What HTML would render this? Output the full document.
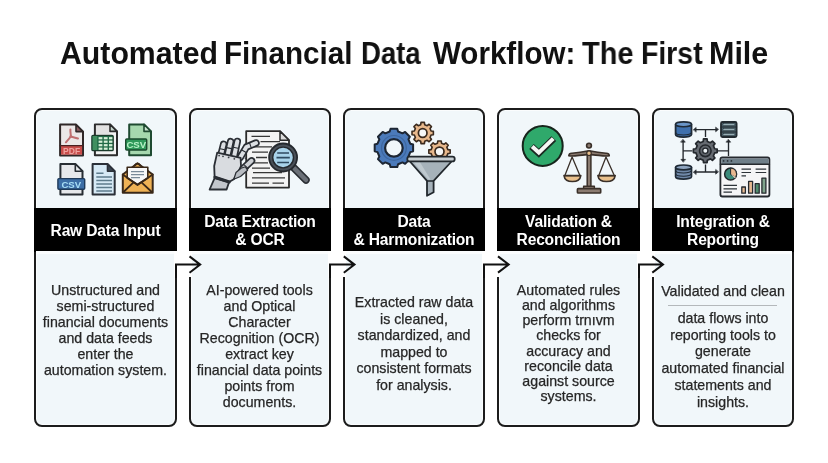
<!DOCTYPE html>
<html><head><meta charset="utf-8">
<style>
html,body{margin:0;padding:0;background:#fff;}
body{width:828px;height:463px;position:relative;overflow:hidden;font-family:"Liberation Sans",sans-serif;}
.title{position:absolute;left:0;width:828px;top:35px;height:34px;font-weight:bold;font-size:29.4px;color:#111;line-height:34px;white-space:nowrap;}
.title span{position:absolute;top:0;transform-origin:0 0;will-change:transform;}
.card{position:absolute;top:107.5px;height:319.5px;box-sizing:border-box;border:2px solid #1c1c1c;border-radius:8px;background:#f1f7fa;box-shadow:inset 0 0 0 1px #fafcfd;}
.hdr{position:absolute;will-change:transform;top:207.5px;height:43.5px;background:#000;color:#fff;font-weight:bold;font-size:15.6px;letter-spacing:-0.2px;line-height:18px;padding-top:2.2px;box-sizing:border-box;text-align:center;display:flex;align-items:center;justify-content:center;}
.strip{position:absolute;top:251px;height:2.5px;background:#fbfdfe;}
.body{position:absolute;will-change:transform;text-align:center;font-size:14.2px;line-height:15.7px;color:#262626;-webkit-text-stroke:0.25px #262626;white-space:nowrap;}
.gapw{position:absolute;background:#fff;}
svg{position:absolute;left:0;top:0;}
</style></head><body>
<div class="title"><span style="left:60.27px;transform:scale(1.0291,1.075)">Automated</span><span style="left:224.28px;transform:scale(1.0081,1.075)">Financial</span><span style="left:361.03px;transform:scale(0.9371,1.075)">Data</span><span style="left:432.8px;transform:scale(1.0058,1.075)">Workflow:</span><span style="left:582.0px;transform:scale(0.9843,1.075)">The</span><span style="left:640.67px;transform:scale(0.9661,1.075)">First</span><span style="left:709.13px;transform:scale(1.037,1.075)">Mile</span></div>

<div class="card" style="left:34px;width:143px"></div>
<div class="card" style="left:189px;width:142px"></div>
<div class="card" style="left:343px;width:142px"></div>
<div class="card" style="left:497px;width:143px"></div>
<div class="card" style="left:652px;width:142px"></div>

<div class="hdr" style="left:34px;width:143px">Raw Data Input</div>
<div class="hdr" style="left:189px;width:142px">Data Extraction<br>&amp; OCR</div>
<div class="hdr" style="left:343px;width:142px">Data<br>&amp; Harmonization</div>
<div class="hdr" style="left:497px;width:143px">Validation &amp;<br>Reconciliation</div>
<div class="hdr" style="left:652px;width:142px">Integration &amp;<br>Reporting</div>

<div class="strip" style="left:36px;width:139px"></div>
<div class="strip" style="left:191px;width:138px"></div>
<div class="strip" style="left:345px;width:138px"></div>
<div class="strip" style="left:499px;width:139px"></div>
<div class="strip" style="left:654px;width:138px"></div>
<!--ICONS1-->
<svg width="828" height="463" viewBox="0 0 828 463" style="position:absolute;left:0;top:0">
 <g stroke-linejoin="round" stroke-linecap="round">
  <!-- PDF -->
  <path d="M60.1 124.6H76L83 131.6V155.5H60.1Z" fill="#ebe7e7" stroke="#2f2727" stroke-width="2"/>
  <path d="M61 146H82.1V154.6H61Z" fill="#c84c4a"/>
  <path d="M60.1 145.7H83" stroke="#4a2020" stroke-width="1.3" fill="none"/>
  <path d="M76 124.6V131.6H83Z" fill="#8d5f63" stroke="#2f2727" stroke-width="1.6"/>
  <path d="M70.4 129.5C70.2 132.5 71 134.5 70.8 136.5M70.8 136.5C69 139 67.5 140.5 65.9 142.3M70.8 136.5C73.5 137.2 75.8 137.8 78 138.5" stroke="#bf6f70" stroke-width="2" fill="none"/><circle cx="70.8" cy="136.6" r="1.3" fill="#bf6f70"/>
  <text x="71.6" y="153.6" font-family="Liberation Sans" font-weight="bold" font-size="8.5" fill="#eea3a0" text-anchor="middle">PDF</text>
  <!-- XLS -->
  <path d="M94.9 124.4H110L117 131.4V155.2H94.9Z" fill="#f3f3f3" stroke="#2c2c2c" stroke-width="2"/>
  <path d="M96 125.5H109.5V134H96Z" fill="#e2e2e2"/>
  <path d="M110 124.4V131.4H117Z" fill="#c6d6ce" stroke="#2c2c2c" stroke-width="1.6"/>
  <rect x="91.9" y="135.4" width="21.3" height="15.2" rx="1.2" fill="#216b47" stroke="#1a3a2a" stroke-width="1.3"/>
  <rect x="92.6" y="136" width="4.6" height="14" fill="#3f8f5f"/>
  <g fill="#d6f0d8">
   <rect x="98.6" y="137.1" width="3.8" height="2.2"/><rect x="103.8" y="137.1" width="3.8" height="2.2"/><rect x="109" y="137.1" width="3.4" height="2.2"/>
   <rect x="98.6" y="140.6" width="3.8" height="2.2"/><rect x="103.8" y="140.6" width="3.8" height="2.2"/><rect x="109" y="140.6" width="3.4" height="2.2"/>
   <rect x="98.6" y="144.1" width="3.8" height="2.2"/><rect x="103.8" y="144.1" width="3.8" height="2.2"/><rect x="109" y="144.1" width="3.4" height="2.2"/>
   <rect x="98.6" y="147.6" width="3.8" height="2.2"/><rect x="103.8" y="147.6" width="3.8" height="2.2"/><rect x="109" y="147.6" width="3.4" height="2.2"/>
  </g>
  <!-- CSV green -->
  <path d="M129.2 124.4H144L151 131.4V155.2H129.2Z" fill="#a6d8ae" stroke="#1f4a31" stroke-width="2"/>
  <path d="M144 124.4V131.4H151Z" fill="#cde6d2" stroke="#1f4a31" stroke-width="1.6"/>
  <rect x="125.7" y="139" width="21" height="11" rx="1" fill="#2e995a" stroke="#1b4a2e" stroke-width="1.4"/>
  <text x="136.3" y="148.3" font-family="Liberation Sans" font-weight="bold" font-size="9.6" fill="#b6f2c6" text-anchor="middle">CSV</text>
  <!-- CSV blue -->
  <path d="M60.4 164H75.3L82.5 171.2V194.6H60.4Z" fill="#e6e8eb" stroke="#272d33" stroke-width="2"/>
  <path d="M75.3 164V171.2H82.5Z" fill="#e9ecef" stroke="#272d33" stroke-width="1.6"/>
  <rect x="57.9" y="178.6" width="26.8" height="10.6" rx="1" fill="#3c6ea6" stroke="#1e3a5a" stroke-width="1.4"/>
  <text x="71.3" y="187.6" font-family="Liberation Sans" font-weight="bold" font-size="9.6" fill="#a8def6" text-anchor="middle">CSV</text>
  <!-- Text doc -->
  <path d="M92.6 164H107.5L114.7 171.2V194.6H92.6Z" fill="#d6e9f5" stroke="#2b3038" stroke-width="2"/>
  <path d="M107.5 164V171.2H114.7Z" fill="#3c4752" stroke="#2b3038" stroke-width="1.6"/>
  <g stroke="#5d7b8c" stroke-width="1.4" fill="none" stroke-linecap="butt">
   <path d="M96.3 173.3H103.5M96.3 177H112M96.3 180.5H112M96.3 184H112M96.3 187.5H112M96.3 191H112"/>
  </g>
  <!-- Envelope -->
  <path d="M122.8 174.5L137.5 163.3L152.7 174.5V192.7H122.8Z" fill="#efb255" stroke="#3a2818" stroke-width="2"/>
  <path d="M134.5 165.5Q137.5 161.8 140.5 165.5" fill="none" stroke="#3a2818" stroke-width="1.6"/>
  <path d="M127.2 167.2H147.8V178L137.5 184.5L127.2 178Z" fill="#f7f7f7" stroke="#3a2818" stroke-width="1.6"/>
  <g stroke="#7a8a98" stroke-width="1.3" fill="none" stroke-linecap="butt"><path d="M131 171.6H144M131 174.6H144M131 177.6H140"/></g>
  <path d="M122.8 174.5L137.5 185L152.7 174.5" fill="none" stroke="#3a2818" stroke-width="1.8"/>
  <path d="M123.5 192L133.5 182.3M151.8 192L141.5 182.3" fill="none" stroke="#3a2818" stroke-width="1.8"/>
 </g>
</svg>

<!--ICONS2-->
<svg width="828" height="463" viewBox="0 0 828 463" style="position:absolute;left:0;top:0">
 <g stroke-linejoin="round" stroke-linecap="round">
  <!-- document -->
  <path d="M246.2 131.2H280L289 140.2V187.6H246.2Z" fill="#f3f3f3" stroke="#2b2b2b" stroke-width="1.8"/>
  <path d="M280 131.2V140.2H289Z" fill="#dcdcdc" stroke="#2b2b2b" stroke-width="1.5"/>
  <g stroke="#363636" stroke-width="1.3" fill="none" stroke-linecap="butt">
   <path d="M251.5 136.3H270M260.5 141.6H280M251.5 146.9H272M252 152.2H268M256 157.5H267M252 162.8H268M252 168.1H270M253 172.6H282M252 177.9H285M252 183.2H269M272.5 183.2H284"/>
  </g>
  <!-- magnifier handle -->
  <path d="M293.5 167.5L306 180" stroke="#2a2e33" stroke-width="7.5"/>
  <path d="M294.5 168.5L306 180" stroke="#6b7077" stroke-width="4.5"/>
  <!-- magnifier ring -->
  <circle cx="283.1" cy="157.5" r="14" fill="#4a5058" stroke="#25292e" stroke-width="1.8"/>
  <circle cx="283.1" cy="157.5" r="10.4" fill="#a9d3ea" stroke="#25292e" stroke-width="1.4"/>
  <g stroke="#2f4a60" stroke-width="1.6" fill="none" stroke-linecap="butt"><path d="M277.2 153H289M276.5 157.6H289.8M277.2 162.5H289"/></g>
  <!-- robot hand -->
  <path d="M209.6 189.5L214.6 178.2L229 182.2L226.6 189.5Z" fill="#c2c6cc" stroke="#2a2e34" stroke-width="1.8"/>
  <g fill="none">
   <path d="M221.3 153.6L223.6 144.3M227.7 154.6L230.6 141.6M234.2 156L237.3 141.4M240.3 157.4L246.4 147L256 143" stroke="#2a2e34" stroke-width="7.4"/>
   <path d="M221.3 153.6L223.6 144.3M227.7 154.6L230.6 141.6M234.2 156L237.3 141.4M240.3 157.4L246.4 147L256 143" stroke="#dcdfe3" stroke-width="4"/>
   <path d="M220.2 148.8L224.6 149.8M226.6 147.6L231.4 148.6M233.2 147.2L238 148.2M241.8 150L245.8 152.3M249.6 143L251 147.2" stroke="#2a2e34" stroke-width="1.1"/>
   <path d="M238.5 173L251.6 160.8" stroke="#2a2e34" stroke-width="7.4"/>
   <path d="M238.5 173L251.6 160.8" stroke="#cdd0d5" stroke-width="4"/>
   <path d="M244.5 165.2L248.2 168.6" stroke="#2a2e34" stroke-width="1.1"/>
  </g>
  <path d="M214.6 176.8L214.2 166L217.2 152.6L240.6 157.9L241 166L238.2 172.2L233.8 179.2L229.5 181.8Z" fill="#d9dce0" stroke="#2a2e34" stroke-width="1.8"/>
  <path d="M233.8 179.2L236 172.5L241 168.2L245.4 166.8L247.6 170.2L240.5 176.5Z" fill="#b8bcc2" stroke="#2a2e34" stroke-width="1.2"/>
  <path d="M214.8 177.3L229.3 182" stroke="#2a2e34" stroke-width="3" fill="none"/>
  <g fill="#3a3e44"><circle cx="219.1" cy="155.6" r="0.9"/><circle cx="223" cy="156.3" r="0.9"/><circle cx="228.6" cy="157.4" r="0.9"/><circle cx="234.3" cy="158.8" r="0.9"/><circle cx="245.4" cy="158.4" r="0.8"/></g>
 </g>
</svg>

<!--ICONS3-->
<svg width="828" height="463" viewBox="0 0 828 463" style="position:absolute;left:0;top:0">
 <g stroke-linejoin="round" stroke-linecap="round">
  <path d="M389.70 131.53L390.55 128.69L397.25 128.69L398.10 131.53L402.50 133.35L405.11 131.95L409.85 136.69L408.45 139.30L410.27 143.70L413.11 144.55L413.11 151.25L410.27 152.10L408.45 156.50L409.85 159.11L405.11 163.85L402.50 162.45L398.10 164.27L397.25 167.11L390.55 167.11L389.70 164.27L385.30 162.45L382.69 163.85L377.95 159.11L379.35 156.50L377.53 152.10L374.69 151.25L374.69 144.55L377.53 143.70L379.35 139.30L377.95 136.69L382.69 131.95L385.30 133.35Z" fill="#4b7aba" stroke="#1d2633" stroke-width="2"/>
  <circle cx="393.9" cy="147.9" r="12.4" fill="none" stroke="#3e679f" stroke-width="1.2"/>
  <circle cx="393.9" cy="147.9" r="8.8" fill="#f1f7fa" stroke="#1d2633" stroke-width="2.2"/>
  <path d="M420.69 124.64L421.01 122.33L424.39 122.33L424.71 124.64L427.19 125.67L429.05 124.26L431.44 126.65L430.03 128.51L431.06 130.99L433.37 131.31L433.37 134.69L431.06 135.01L430.03 137.49L431.44 139.35L429.05 141.74L427.19 140.33L424.71 141.36L424.39 143.67L421.01 143.67L420.69 141.36L418.21 140.33L416.35 141.74L413.96 139.35L415.37 137.49L414.34 135.01L412.03 134.69L412.03 131.31L414.34 130.99L415.37 128.51L413.96 126.65L416.35 124.26L418.21 125.67Z" fill="#e8b88c" stroke="#3a2a1e" stroke-width="1.6"/>
  <circle cx="422.7" cy="133" r="4.3" fill="#f6f7f7" stroke="#3a2a1e" stroke-width="1.7"/>
  <path d="M437.49 143.24L437.81 140.93L441.19 140.93L441.51 143.24L443.99 144.27L445.85 142.86L448.24 145.25L446.83 147.11L447.86 149.59L450.17 149.91L450.17 153.29L447.86 153.61L446.83 156.09L448.24 157.95L445.85 160.34L443.99 158.93L441.51 159.96L441.19 162.27L437.81 162.27L437.49 159.96L435.01 158.93L433.15 160.34L430.76 157.95L432.17 156.09L431.14 153.61L428.83 153.29L428.83 149.91L431.14 149.59L432.17 147.11L430.76 145.25L433.15 142.86L435.01 144.27Z" fill="#e8b88c" stroke="#3a2a1e" stroke-width="1.6"/>
  <circle cx="439.5" cy="151.6" r="4.5" fill="#f6f7f7" stroke="#3a2a1e" stroke-width="1.7"/>
  <!-- funnel -->
  <path d="M409.5 161L427 180.8V195.8L433.6 192.2V180.8L452 161Z" fill="#a6b2ba" stroke="#22282d" stroke-width="1.8"/>
  <path d="M413.5 162.2L428.3 179.5H430.5L420 162.2Z" fill="#bfc9cf"/>
  <path d="M427.5 181H433.3" stroke="#22282d" stroke-width="1.3"/>
  <rect x="407.3" y="156.6" width="47.4" height="4.8" rx="2.2" fill="#c6cdd1" stroke="#22282d" stroke-width="1.8"/>
 </g>
</svg>
<!--ICONS4-->
<svg width="828" height="463" viewBox="0 0 828 463" style="position:absolute;left:0;top:0">
 <g stroke-linejoin="round" stroke-linecap="round">
  <circle cx="542.7" cy="145.9" r="20" fill="#2fa96b" stroke="#17251c" stroke-width="2"/>
  <path d="M531.5 146.6L538.8 153.2L553.8 138.6" fill="none" stroke="#1b2a22" stroke-width="6.8" stroke-linecap="butt" stroke-linejoin="miter"/>
  <path d="M532.2 146.6L538.8 152.6L553.2 138.6" fill="none" stroke="#f7f7f5" stroke-width="4" stroke-linecap="butt" stroke-linejoin="miter"/>
  <!-- scales -->
  <g fill="none" stroke="#3a3029" stroke-width="1.3">
   <path d="M572.1 157L564.8 175.7M572.1 157L580 175.7M606 157L598.7 175.7M606 157L614.4 175.7"/>
  </g>
  <path d="M564 175.6H580.8Q580 181.5 572.4 181.5Q564.8 181.5 564 175.6Z" fill="#e9c08c" stroke="#3a3029" stroke-width="1.6"/>
  <path d="M597.9 175.6H615.2Q614.4 181.5 606.5 181.5Q598.7 181.5 597.9 175.6Z" fill="#e9c08c" stroke="#3a3029" stroke-width="1.6"/>
  <path d="M564.5 175.6H580.3" stroke="#3a3029" stroke-width="1.4"/>
  <path d="M598.4 175.6H614.7" stroke="#3a3029" stroke-width="1.4"/>
  <rect x="587.2" y="153" width="3.7" height="34" fill="#8b7b70" stroke="#3a3029" stroke-width="1.5"/>
  <path d="M568.8 155.8Q569 153 572 153.2Q580 152.5 589 150.8Q598 152.5 606 153.2Q609 153 609.3 155.8Q606 156.5 599 155.4Q592 154.6 589 154.4Q586 154.6 579 155.4Q572 156.5 568.8 155.8Z" fill="#8b7b70" stroke="#3a3029" stroke-width="1.6"/>
  <circle cx="589" cy="145.6" r="2.4" fill="#8b7b70" stroke="#3a3029" stroke-width="1.6"/>
  <circle cx="589" cy="153.2" r="2.3" fill="#e9c08c" stroke="#3a3029" stroke-width="1.2"/>
  <rect x="583.6" y="186.2" width="10.8" height="2.6" fill="#8b7b70" stroke="#3a3029" stroke-width="1.4"/>
  <rect x="577.4" y="188.6" width="23.3" height="4.4" rx="0.8" fill="#8b7b70" stroke="#3a3029" stroke-width="1.6"/>
 </g>
</svg>

<!--ICONS5-->
<svg width="828" height="463" viewBox="0 0 828 463" style="position:absolute;left:0;top:0">
 <g stroke-linejoin="round" stroke-linecap="round">
  <!-- connectors -->
  <g fill="none" stroke="#25292e" stroke-width="1.35" stroke-linecap="butt">
   <path d="M695 129.6H717M705.5 129.6V137M695 172H717M705.5 172V164.5M683.1 141V160.5M683.1 150.8H692.5M718 150.8H728.5M728.5 141V156"/>
  </g>
  <path d="M693.50 129.60L696.14 127.40L696.14 131.80ZM718.30 129.60L715.66 131.80L715.66 127.40ZM693.50 172.00L696.14 169.80L696.14 174.20ZM718.30 172.00L715.66 174.20L715.66 169.80ZM683.10 139.50L685.30 142.14L680.90 142.14ZM683.10 162.00L680.90 159.36L685.30 159.36ZM728.50 139.50L730.70 142.14L726.30 142.14Z" fill="#25292e" stroke="#25292e" stroke-width="0.6"/>
  <!-- gear -->
  <path d="M703.24 141.42L703.52 138.93L707.08 138.93L707.36 141.42L710.48 142.71L712.43 141.15L714.95 143.67L713.39 145.62L714.68 148.74L717.17 149.02L717.17 152.58L714.68 152.86L713.39 155.98L714.95 157.93L712.43 160.45L710.48 158.89L707.36 160.18L707.08 162.67L703.52 162.67L703.24 160.18L700.12 158.89L698.17 160.45L695.65 157.93L697.21 155.98L695.92 152.86L693.43 152.58L693.43 149.02L695.92 148.74L697.21 145.62L695.65 143.67L698.17 141.15L700.12 142.71Z" fill="#666b72" stroke="#24282d" stroke-width="1.7"/>
  <circle cx="705.3" cy="150.8" r="5.8" fill="#60656c" stroke="#24282d" stroke-width="1.6"/>
  <circle cx="705.3" cy="150.8" r="2.6" fill="#eef3f6" stroke="#24282d" stroke-width="1.3"/>
  <!-- DB1 -->
  <path d="M675.6 124.3V134.6A7.95 2.5 0 0 0 691.5 134.6V124.3Z" fill="#3f70ad" stroke="#1f2a36" stroke-width="1.8"/>
  <ellipse cx="683.55" cy="124.3" rx="7.95" ry="2.4" fill="#6a95c8" stroke="#1f2a36" stroke-width="1.6"/>
  <path d="M675.6 132.6A7.95 2.4 0 0 0 691.5 132.6" fill="none" stroke="#1f2a36" stroke-width="1.1"/>
  <!-- server -->
  <rect x="721" y="122" width="15.6" height="15" rx="1.5" fill="#4a606b" stroke="#222a30" stroke-width="1.8"/>
  <path d="M721 127H736.6M721 132H736.6" stroke="#222a30" stroke-width="1.1"/>
  <g fill="#9fb5bd" stroke="#2a3a42" stroke-width="0.6"><rect x="722.8" y="123.6" width="12" height="2" rx="0.8"/><rect x="722.8" y="128.6" width="12" height="2" rx="0.8"/><rect x="722.8" y="133.6" width="12" height="2" rx="0.8"/></g>
  <!-- DB2 -->
  <path d="M675.6 167.4V176.7A7.95 2.4 0 0 0 691.5 176.7V167.4Z" fill="#6f88a8" stroke="#1f2a36" stroke-width="1.7"/>
  <ellipse cx="683.55" cy="167.4" rx="7.95" ry="2.4" fill="#8ea4bf" stroke="#1f2a36" stroke-width="1.7"/>
  <path d="M675.6 170.6A7.95 2.4 0 0 0 691.5 170.6M675.6 173.8A7.95 2.4 0 0 0 691.5 173.8" fill="none" stroke="#1f2a36" stroke-width="1.1"/>
  <!-- dashboard -->
  <rect x="720.4" y="157.5" width="49" height="39" rx="2" fill="#f5f5f6" stroke="#262a2f" stroke-width="1.8"/>
  <path d="M721.3 158.4H768.5V164H721.3Z" fill="#6f7f89"/>
  <path d="M720.4 164.3H769.4" stroke="#262a2f" stroke-width="1.4"/>
  <g fill="#2b3238"><circle cx="723.6" cy="160.9" r="0.9"/><circle cx="727.6" cy="160.9" r="0.9"/><circle cx="731.4" cy="160.9" r="0.9"/></g>
  <circle cx="730.6" cy="174.1" r="6" fill="#3d8b7b" stroke="#22282c" stroke-width="1.5"/>
  <path d="M730.6 174.1V168.1A6 6 0 0 1 735.8 177.1Z" fill="#e8b88f" stroke="#22282c" stroke-width="1"/>
  <path d="M730.6 174.1L735.8 177.1A6 6 0 0 1 734.9 178.3Z" fill="#f0d8c4"/>
  <g stroke="#2d3338" stroke-width="1.2" stroke-linecap="butt" fill="none">
   <path d="M741.5 169.1H751M755.6 169.1H766.2M741.5 172.5H751M755.6 172.5H766.2M741.5 175.8H746M723.5 185.4H737M723.5 188.8H737M723.5 192.1H732"/>
  </g>
  <g stroke="#262a2f" stroke-width="1.3">
   <rect x="741.8" y="187" width="3.6" height="6.2" fill="#e7b991"/>
   <rect x="748.6" y="181.4" width="4" height="11.8" fill="#e7b991"/>
   <rect x="755.2" y="183.7" width="4" height="9.5" fill="#4f8c6c"/>
   <rect x="761.9" y="178.1" width="4" height="15.1" fill="#7ea38b"/>
  </g>
 </g>
</svg>
<!-- gap whites to remove border segments near arrows -->
<div class="gapw" style="left:174px;top:251px;width:18px;height:25.5px"></div>
<div class="gapw" style="left:328px;top:251px;width:18px;height:25.5px"></div>
<div class="gapw" style="left:482px;top:251px;width:18px;height:25.5px"></div>
<div class="gapw" style="left:637px;top:251px;width:18px;height:25.5px"></div>

<svg width="828" height="463" viewBox="0 0 828 463">
 <g fill="none" stroke="#111" stroke-width="2" stroke-linecap="butt" stroke-linejoin="miter">
  <path d="M176 278V264.6H199.8M189.5 256.4L200.2 264.6L189.5 272.8"/>
  <path d="M330 278V264.6H354.3M343.8 256.4L354.5 264.6L343.8 272.8"/>
  <path d="M484 278V264.5H508.5M498 256.4L508.7 264.5L498 272.6"/>
  <path d="M639 278V264.5H662.9M652.3 256.4L663 264.5L652.3 272.6"/>
 </g>
</svg>

<div class="body" style="left:34px;width:143px;top:282.9px;line-height:15.95px">Unstructured and<br>semi-structured<br>financial documents<br>and data feeds<br>enter the<br>automation system.</div>
<div class="body" style="left:188px;width:143px;top:282.8px;line-height:15.95px">AI-powered tools<br>and Optical<br>Character<br>Recognition (OCR)<br>extract key<br>financial data points<br>points from<br>documents.</div>
<div class="body" style="left:343px;width:142px;top:294.1px;line-height:16.5px">Extracted raw data<br>is cleaned,<br>standardized, and<br>mapped to<br>consistent formats<br>for analysis.</div>
<div class="body" style="left:497px;width:143px;top:283px;line-height:15.15px">Automated rules<br>and algorithms<br>perform trnıvm<br>checks for<br>accuracy and<br>reconcile data<br>against source<br>systems.</div>
<div class="body" style="left:652px;width:142px;top:283.8px;line-height:15.9px">Validated and clean</div>
<div style="position:absolute;left:668px;top:305px;width:109px;height:1px;background:#b4b8bb"></div>
<div class="body" style="left:652px;width:142px;top:310.3px;line-height:16.7px">data flows into<br>reporting tools to<br>generate<br>automated financial<br>statements and<br>insights.</div>
</body></html>
